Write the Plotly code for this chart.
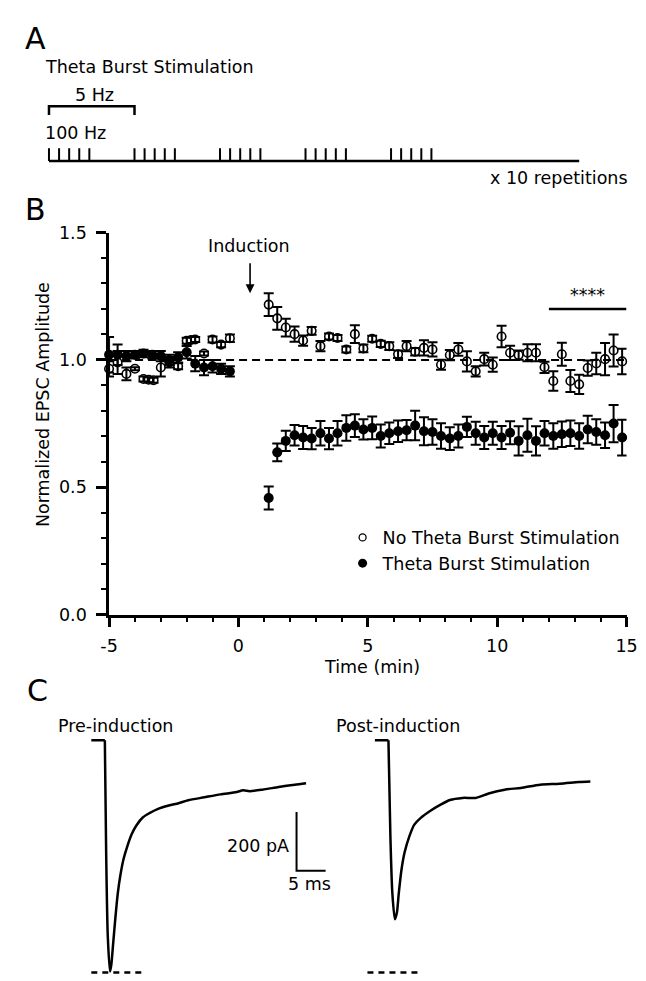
import plotly.graph_objects as go

W, H = 646, 981
FONT = "DejaVu Sans"
FS = 17.5


def px(x):
    return x / W


def py(y):
    return 1 - y / H


# ---------------- Panel A : stimulation protocol (schematic) ----------------
burst_onsets = [0, 1, 2, 3, 4]            # theta cycles (5 Hz)
pulse_index = [0, 1, 2, 3, 4]             # 5 pulses at 100 Hz in each burst
repetitions_label = "x 10 repetitions"

# ---------------- Panel B : normalized EPSC amplitude ----------------
pre_time_open = [-5.0, -4.67, -4.33, -4.0, -3.67, -3.47, -3.28, -3.0, -2.67, -2.33,
                 -2.0, -1.83, -1.67, -1.33, -1.0, -0.67, -0.33]
pre_open = [0.965, 0.99, 0.945, 0.965, 0.925, 0.922, 0.92, 0.97, 0.99, 0.975,
            1.075, 1.078, 1.08, 1.025, 1.08, 1.06, 1.085]
pre_open_err = [0.03, 0.045, 0.025, 0.006, 0.01, 0.01, 0.01, 0.035, 0.02, 0.012,
                0.012, 0.012, 0.01, 0.008, 0.012, 0.01, 0.015]

pre_time_filled = [-5.0, -4.67, -4.33, -4.0, -3.67, -3.33, -3.0, -2.67, -2.33, -2.0,
                   -1.67, -1.33, -1.0, -0.67, -0.33]
pre_filled = [1.02, 1.02, 1.015, 1.02, 1.025, 1.02, 1.015, 1.0, 1.01, 1.03,
              0.985, 0.97, 0.975, 0.965, 0.955]
pre_filled_err = [0.07, 0.04, 0.02, 0.015, 0.015, 0.015, 0.02, 0.02, 0.02, 0.025,
                  0.03, 0.03, 0.025, 0.02, 0.02]

post_time = [1.17, 1.5, 1.83, 2.17, 2.5, 2.83, 3.17, 3.5, 3.83, 4.17,
             4.5, 4.83, 5.17, 5.5, 5.83, 6.17, 6.5, 6.83, 7.17, 7.5,
             7.83, 8.17, 8.5, 8.83, 9.17, 9.5, 9.83, 10.17, 10.5, 10.83,
             11.17, 11.5, 11.83, 12.17, 12.5, 12.83, 13.17, 13.5, 13.83, 14.17,
             14.5, 14.83]
post_open = [1.217, 1.163, 1.127, 1.101, 1.076, 1.114, 1.054, 1.092, 1.086, 1.041,
             1.101, 1.045, 1.083, 1.063, 1.054, 1.022, 1.054, 1.032, 1.047, 1.041,
             0.981, 1.019, 1.041, 0.994, 0.955, 1.003, 0.981, 1.092, 1.028, 1.019,
             1.028, 1.028, 0.971, 0.917, 1.022, 0.917, 0.904, 0.968, 0.986, 1.003,
             1.037, 0.994]
post_open_err = [0.045, 0.045, 0.035, 0.03, 0.02, 0.015, 0.02, 0.012, 0.012, 0.012,
                 0.035, 0.015, 0.012, 0.012, 0.015, 0.015, 0.02, 0.015, 0.03, 0.028,
                 0.02, 0.02, 0.025, 0.04, 0.02, 0.025, 0.028, 0.042, 0.028, 0.018,
                 0.033, 0.033, 0.022, 0.038, 0.045, 0.043, 0.038, 0.03, 0.042, 0.063,
                 0.063, 0.05]
post_filled = [0.458, 0.637, 0.682, 0.704, 0.695, 0.691, 0.712, 0.691, 0.712, 0.733,
               0.742, 0.727, 0.733, 0.701, 0.712, 0.72, 0.724, 0.742, 0.72, 0.717,
               0.701, 0.691, 0.701, 0.737, 0.712, 0.695, 0.712, 0.695, 0.714, 0.682,
               0.704, 0.682, 0.712, 0.701, 0.708, 0.712, 0.701, 0.727, 0.717, 0.704,
               0.75, 0.695]
post_filled_err = [0.045, 0.035, 0.04, 0.04, 0.045, 0.042, 0.048, 0.042, 0.048, 0.05,
                   0.045, 0.04, 0.045, 0.045, 0.042, 0.042, 0.04, 0.058, 0.055, 0.05,
                   0.05, 0.045, 0.045, 0.04, 0.045, 0.045, 0.045, 0.045, 0.045, 0.057,
                   0.065, 0.057, 0.048, 0.05, 0.05, 0.05, 0.05, 0.054, 0.05, 0.05,
                   0.073, 0.07]

baseline_level = 1.0
induction_time = 0.45
sig_window = [12.0, 15.0]
sig_level = 1.2
sig_label = "****"

x_tickvals = [-5, 0, 5, 10, 15]
x_ticktext = ["-5", "0", "5", "10", "15"]
y_tickvals = [0.0, 0.5, 1.0, 1.5]
y_ticktext = ["0.0", "0.5", "1.0", "1.5"]
series_names = ["No Theta Burst Stimulation", "Theta Burst Stimulation"]

# ---------------- Panel C : example EPSC traces (ms, pA) ----------------
pre_trace_t = [0, 2.33, 2.56, 2.83, 3.22, 3.44, 3.78, 4.17, 4.56, 5.0, 5.56, 6.22,
               6.94, 7.78, 8.89, 10.0, 11.39, 13.33, 15.0, 16.67, 19.44, 22.22,
               25.0, 26.11, 27.22, 29.44, 32.22, 35.0, 36.94]
pre_trace_i = [0, 0, -387, -664, -787, -764, -687, -598, -520, -459, -403, -359,
               -320, -289, -262, -248, -234, -222, -214, -204, -194, -184,
               -176, -170, -173, -168, -159, -151, -146]
post_trace_t = [0, 2.33, 2.67, 3.0, 3.44, 3.78, 4.11, 4.56, 5.11, 5.94, 6.78, 7.89,
                9.56, 11.22, 12.89, 15.11, 17.33, 19.56, 22.33, 25.11, 28.44, 31.78,
                35.11, 37.06]
post_trace_i = [0, 0, -331, -520, -609, -587, -520, -442, -381, -326, -287, -264,
                -240, -220, -203, -196, -196, -181, -168, -162, -151, -148,
                -142, -140]
pre_peak_level = -790
pre_dash_t = [0, 9.2]
post_dash_t = [-1.28, 7.9]
scalebar_pa = 200
scalebar_ms = 5
scalebar_origin = (35.3, -444)

fig = go.Figure()

# ---- Panel B traces ----
fig.add_trace(go.Scatter(x=[-5, 15], y=[baseline_level, baseline_level], mode="lines",
                         line=dict(color="black", width=2, dash="8px,5px"),
                         showlegend=False, hoverinfo="skip"))

open_marker = dict(symbol="circle-open", size=8.5, color="black", line=dict(width=1.6, color="black"))
filled_marker = dict(symbol="circle", size=10, color="black", line=dict(width=0))
err_style = dict(type="data", visible=True, color="black", thickness=2, width=5)

fig.add_trace(go.Scatter(x=pre_time_open + post_time, y=pre_open + post_open, mode="markers",
                         marker=open_marker, cliponaxis=False, showlegend=False,
                         error_y=dict(array=pre_open_err + post_open_err, **err_style)))
fig.add_trace(go.Scatter(x=pre_time_filled + post_time, y=pre_filled + post_filled, mode="markers",
                         marker=filled_marker, cliponaxis=False, showlegend=False,
                         error_y=dict(array=pre_filled_err + post_filled_err, **err_style)))

# legend entries
fig.add_trace(go.Scatter(x=[None], y=[None], mode="markers", name=series_names[0],
                         marker=dict(symbol="circle-open", size=7, color="black",
                                     line=dict(width=1.3, color="black"))))
fig.add_trace(go.Scatter(x=[None], y=[None], mode="markers", name=series_names[1],
                         marker=dict(symbol="circle", size=9, color="black")))

# significance bar
fig.add_trace(go.Scatter(x=sig_window, y=[sig_level, sig_level], mode="lines",
                         line=dict(color="black", width=2.5), showlegend=False, cliponaxis=False))

# ---- Panel A traces ----
pulse_step = 0.118
tick_h = 13
px_list, py_list = [], []
for b in burst_onsets:
    for k in pulse_index:
        xx = b + k * pulse_step
        px_list += [xx, xx, None]
        py_list += [0, tick_h, None]
fig.add_trace(go.Scatter(x=px_list, y=py_list, mode="lines", xaxis="x3", yaxis="y3",
                         line=dict(color="black", width=2), showlegend=False, hoverinfo="skip"))
fig.add_trace(go.Scatter(x=[0, 6.2], y=[0, 0], mode="lines", xaxis="x3", yaxis="y3",
                         line=dict(color="black", width=2.5), showlegend=False, hoverinfo="skip"))
fig.add_trace(go.Scatter(x=[burst_onsets[0], burst_onsets[0], burst_onsets[1], burst_onsets[1]],
                         y=[47, 56, 56, 47], mode="lines", xaxis="x3", yaxis="y3",
                         line=dict(color="black", width=2.5), showlegend=False, hoverinfo="skip"))

# ---- Panel C traces ----
trace_line = dict(color="black", width=2.5)
curve_line = dict(color="black", width=2.5, shape="spline", smoothing=0.7)
for t, i, ax, ay in [(pre_trace_t, pre_trace_i, "x4", "y4"), (post_trace_t, post_trace_i, "x5", "y5")]:
    # flat pre-stimulus baseline (sharp corner), then smooth EPSC waveform
    fig.add_trace(go.Scatter(x=t[:2], y=i[:2], mode="lines", xaxis=ax, yaxis=ay,
                             line=trace_line, showlegend=False, cliponaxis=False))
    fig.add_trace(go.Scatter(x=t[1:], y=i[1:], mode="lines", xaxis=ax, yaxis=ay,
                             line=curve_line, showlegend=False, cliponaxis=False))
dash_line = dict(color="black", width=2.5, dash="6px,5px")
fig.add_trace(go.Scatter(x=pre_dash_t, y=[pre_peak_level] * 2, mode="lines", xaxis="x4", yaxis="y4",
                         line=dash_line, showlegend=False, cliponaxis=False))
fig.add_trace(go.Scatter(x=post_dash_t, y=[pre_peak_level] * 2, mode="lines", xaxis="x5", yaxis="y5",
                         line=dash_line, showlegend=False, cliponaxis=False))
sx, sy = scalebar_origin
fig.add_trace(go.Scatter(x=[sx, sx, sx + scalebar_ms], y=[sy + scalebar_pa, sy, sy], mode="lines",
                         xaxis="x4", yaxis="y4", line=dict(color="black", width=2),
                         showlegend=False, cliponaxis=False))

hidden = dict(visible=False, showgrid=False, zeroline=False)

fig.update_layout(
    width=W, height=H,
    margin=dict(l=0, r=0, t=0, b=0),
    paper_bgcolor="white", plot_bgcolor="white",
    font=dict(family=FONT, size=FS, color="black"),
    xaxis=dict(domain=[px(95), px(629)], range=[-5, 15], showgrid=False, zeroline=False,
               showline=True, linewidth=2.5, linecolor="black",
               tickvals=x_tickvals, ticktext=x_ticktext, ticks="outside", ticklen=10,
               tickwidth=2.5, tickcolor="black", ticklabelstandoff=4,
               tickfont=dict(size=FS),
               minor=dict(dtick=1, tick0=0, ticks="outside", ticklen=5, tickwidth=2,
                          tickcolor="black", showgrid=False)),
    yaxis=dict(domain=[py(609), py(219)], range=[0, 1.5], showgrid=False, zeroline=False,
               showline=True, linewidth=2.5, linecolor="black",
               tickvals=y_tickvals, ticktext=y_ticktext, ticks="outside", ticklen=10,
               tickwidth=2.5, tickcolor="black", ticklabelstandoff=6,
               tickfont=dict(size=FS),
               minor=dict(dtick=0.1, tick0=0, ticks="outside", ticklen=5, tickwidth=2,
                          tickcolor="black", showgrid=False)),
    xaxis3=dict(domain=[0, 1], range=[-33 / 88.25, 613 / 88.25], anchor="y3", **hidden),
    yaxis3=dict(domain=[py(180), 1], range=[-34, 146], anchor="x3", **hidden),
    xaxis4=dict(domain=[0, px(322)], range=[-76.67 / 6, (322 - 76.67) / 6], anchor="y4", **hidden),
    yaxis4=dict(domain=[0, py(700)], range=[-812.2, 124.4], anchor="x4", **hidden),
    xaxis5=dict(domain=[px(324), 1], range=[(324 - 369.33) / 6, (646 - 369.33) / 6], anchor="y5", **hidden),
    yaxis5=dict(domain=[0, py(700)], range=[-812.2, 124.4], anchor="x5", **hidden),
    legend=dict(x=px(336), y=py(512), xanchor="left", yanchor="top",
                font=dict(size=FS), bgcolor="rgba(0,0,0,0)", borderwidth=0,
                itemwidth=30, tracegroupgap=0),
)

ann = []


def text(x, y, s, size=FS, xanchor="left", yanchor="middle", xref="paper", yref="paper", **kw):
    ann.append(dict(x=x, y=y, text=s, showarrow=False, xref=xref, yref=yref,
                    xanchor=xanchor, yanchor=yanchor, font=dict(size=size, family=FONT, color="black"), **kw))


# panel letters
text(px(6), py(21), "A", size=30)
text(px(6), py(195), "B", size=30)
text(px(8), py(686), "C", size=30)
# panel A labels
text(px(27), py(50), "Theta Burst Stimulation")
text(px(80), py(79), "5 Hz", xanchor="center")
text(px(27), py(117), "100 Hz")
text(px(633), py(163), repetitions_label, xanchor="right")
# panel B labels
text(px(366), py(662), "Time (min)", xanchor="center")
text(px(27), py(395), "Normalized EPSC Amplitude", xanchor="center", textangle=-90)
text(induction_time - 0.05, 1.446, "Induction", xanchor="center", xref="x", yref="y")
text(sum(sig_window) / 2, 1.255, sig_label, xanchor="center", xref="x", yref="y")
ann.append(dict(x=induction_time, y=1.262, ax=induction_time, ay=1.385, xref="x", yref="y",
                axref="x", ayref="y", text="", showarrow=True, arrowhead=2, arrowsize=1.1,
                arrowwidth=1.6, arrowcolor="black"))
# panel C labels
text(px(40), py(723), "Pre-induction")
text(px(327), py(723), "Post-induction")
text(px(283), py(845), f"{scalebar_pa} pA", xanchor="right")
text(px(302), py(884), f"{scalebar_ms} ms", xanchor="center")

fig.update_layout(annotations=ann)
fig.write_html("out.html")
